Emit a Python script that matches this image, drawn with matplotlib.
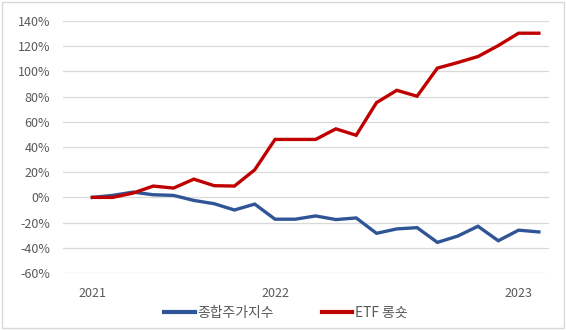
import numpy as np
import matplotlib
matplotlib.use("Agg")
import matplotlib.pyplot as plt
from matplotlib.patches import Rectangle

plt.rcParams['font.family'] = ['Noto Sans CJK KR', 'DejaVu Sans']

# monthly cumulative returns (%)
kospi = [0, 1.6, 4.2, 2.1, 1.6, -2.4, -5.0, -10.0, -5.3, -17.3, -17.3, -14.7,
         -17.6, -16.3, -28.5, -25.0, -24.0, -35.7, -30.7, -22.9, -34.4, -26.0, -27.4]
longshort = [0, 0, 3.4, 9.0, 7.4, 14.5, 9.3, 9.0, 21.9, 46.0, 46.0, 46.0,
             54.4, 49.3, 75.2, 85.0, 80.3, 102.6, 107.0, 111.8, 120.5, 130.3, 130.3]
year_pos = [0, 9, 21]
year_labels = ['2021', '2022', '2023']
y_ticks = list(range(-60, 141, 20))

BLUE = '#2f5597'
RED = '#c00000'
GRAY_TXT = '#595959'
GRID = '#d9d9d9'

fig = plt.figure(figsize=(5.66, 3.30), dpi=100)
ax = fig.add_axes([0.1108, 0.1727, 0.8592, 0.7637])

x = np.arange(len(kospi))
l1, = ax.plot(x, kospi, color=BLUE, lw=2.4, solid_joinstyle='miter', label='종합주가지수', zorder=3)
l2, = ax.plot(x, longshort, color=RED, lw=2.4, solid_joinstyle='miter', label='ETF 롱숏', zorder=4)

ax.set_xlim(-1.46, 22.5)
ax.set_ylim(-60, 140)
ax.set_yticks(y_ticks)
ax.set_yticklabels([f'{v}%' for v in y_ticks])
ax.set_xticks(year_pos)
ax.set_xticklabels(year_labels)
ax.grid(axis='y', color=GRID, lw=0.9, zorder=0)
ax.grid(axis='x', visible=False)
for s in ax.spines.values():
    s.set_visible(False)
ax.tick_params(axis='both', length=0, labelsize=9, colors=GRAY_TXT)
ax.tick_params(axis='y', pad=9)
ax.tick_params(axis='x', pad=10)

leg = fig.legend(handles=[l1, l2], loc='center', bbox_to_anchor=(286 / 566, 1 - 313 / 330),
                 ncol=2, frameon=False, fontsize=10, handlelength=2.2, handletextpad=0.2,
                 columnspacing=3.4, labelcolor=GRAY_TXT)
for h in leg.legend_handles:
    h.set_linewidth(3.0)

# chart border
fig.patches.append(Rectangle((0.004, 0.006), 0.992, 0.988, transform=fig.transFigure,
                             fill=False, edgecolor=GRID, lw=1.0))

fig.savefig('out.png', dpi=100)
